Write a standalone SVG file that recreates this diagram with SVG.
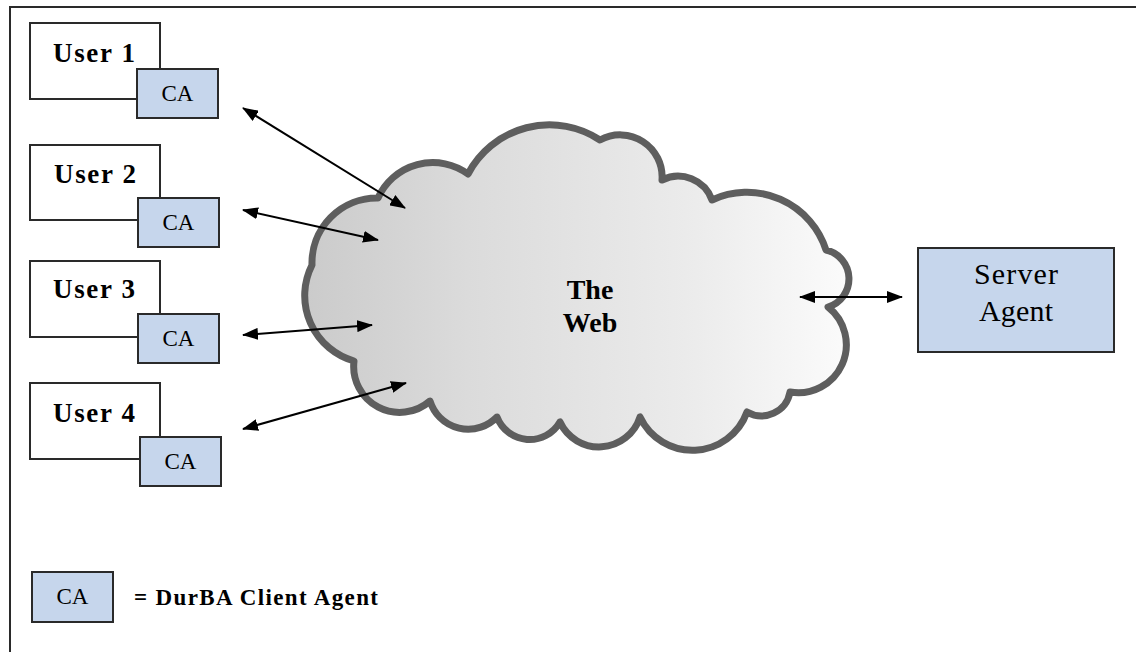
<svg xmlns="http://www.w3.org/2000/svg" width="1136" height="652" viewBox="0 0 1136 652">
  <style>
    .frame { fill: none; stroke: #2a2a2a; stroke-width: 2; }
    .user { fill: #ffffff; stroke: #2a2a2a; stroke-width: 2; }
    .agent { fill: #c6d6ec; stroke: #2a2a2a; stroke-width: 2; }
    .bold { font-family: "Liberation Serif", "Times New Roman", serif; font-weight: bold; fill: #000; }
    .reg { font-family: "Liberation Serif", "Times New Roman", serif; fill: #000; }
    .conn { stroke: #000; stroke-width: 2; fill: none; marker-start: url(#ah); marker-end: url(#ah); }
  </style>
  <defs>
    <linearGradient id="cloudFill" x1="0" y1="0" x2="1" y2="0">
      <stop offset="0" stop-color="#cbcbcb"/>
      <stop offset="0.3" stop-color="#dbdbdb"/>
      <stop offset="0.7" stop-color="#ebebeb"/>
      <stop offset="1" stop-color="#fbfbfb"/>
    </linearGradient>
    <marker id="ah" viewBox="0 0 16 12" markerWidth="16" markerHeight="12" refX="15" refY="6" orient="auto-start-reverse" markerUnits="userSpaceOnUse">
      <path d="M0,0 L16,6 L0,12 z" fill="#000"/>
    </marker>
  </defs>

  <rect width="1136" height="652" fill="#ffffff"/>
  <path class="frame" d="M10,652 L10,7 L1136,7"/>

  <g id="cloud">
    <path d="M378,198 A60,60 0 0 1 468,174 A92,92 0 0 1 600,140 A42,42 0 0 1 662,180 A36,36 0 0 1 712,200 A83,83 0 0 1 826,250 A29.5,29.5 0 0 1 828,307 A48,48 0 0 1 790,392 A29,29 0 0 1 747,412 A58,58 0 0 1 640,417 A43,43 0 0 1 560,422 A35,35 0 0 1 497,417 A40,40 0 0 1 430,401 A46,46 0 0 1 354,361 A68,68 0 0 1 312,265 A65,65 0 0 1 378,198 Z" fill="url(#cloudFill)" stroke="#5e5e5e" stroke-width="7" stroke-linejoin="round"/>
    <text class="bold" x="590" y="299" font-size="28" text-anchor="middle">The</text>
    <text class="bold" x="590" y="332" font-size="28" text-anchor="middle">Web</text>
  </g>

  <g id="user1">
    <rect class="user" x="30" y="23" width="130" height="76"/>
    <text class="bold" x="53" y="62" font-size="27" textLength="82">User 1</text>
    <rect class="agent" x="137" y="69" width="81" height="49"/>
    <text class="reg" x="177.5" y="101" font-size="23" text-anchor="middle">CA</text>
  </g>
  <g id="user2">
    <rect class="user" x="30" y="145" width="130" height="75"/>
    <text class="bold" x="54" y="183" font-size="27" textLength="82">User 2</text>
    <rect class="agent" x="138" y="198" width="81" height="49"/>
    <text class="reg" x="178.5" y="230" font-size="23" text-anchor="middle">CA</text>
  </g>
  <g id="user3">
    <rect class="user" x="30" y="261" width="130" height="76"/>
    <text class="bold" x="53" y="298" font-size="27" textLength="82">User 3</text>
    <rect class="agent" x="138" y="314" width="81" height="49"/>
    <text class="reg" x="178.5" y="346" font-size="23" text-anchor="middle">CA</text>
  </g>
  <g id="user4">
    <rect class="user" x="30" y="383" width="130" height="76"/>
    <text class="bold" x="53" y="422" font-size="27" textLength="82">User 4</text>
    <rect class="agent" x="140" y="437" width="81" height="49"/>
    <text class="reg" x="180.5" y="469" font-size="23" text-anchor="middle">CA</text>
  </g>

  <g id="server">
    <rect class="agent" x="918" y="248" width="196" height="104"/>
    <text class="reg" x="1016" y="284" font-size="30" text-anchor="middle" textLength="84">Server</text>
    <text class="reg" x="1016" y="321" font-size="30" text-anchor="middle" textLength="74">Agent</text>
  </g>

  <g id="legend">
    <rect class="agent" x="32" y="572" width="81" height="50"/>
    <text class="reg" x="72.5" y="604" font-size="23" text-anchor="middle">CA</text>
    <text class="bold" x="134" y="605" font-size="23" textLength="244">= DurBA Client Agent</text>
  </g>

  <g id="connectors">
    <line class="conn" x1="243" y1="108" x2="405" y2="208"/>
    <line class="conn" x1="243" y1="210" x2="378" y2="240"/>
    <line class="conn" x1="243" y1="335" x2="372" y2="325"/>
    <line class="conn" x1="243" y1="429" x2="406" y2="383"/>
    <line class="conn" x1="800" y1="297" x2="902" y2="297"/>
  </g>
</svg>
